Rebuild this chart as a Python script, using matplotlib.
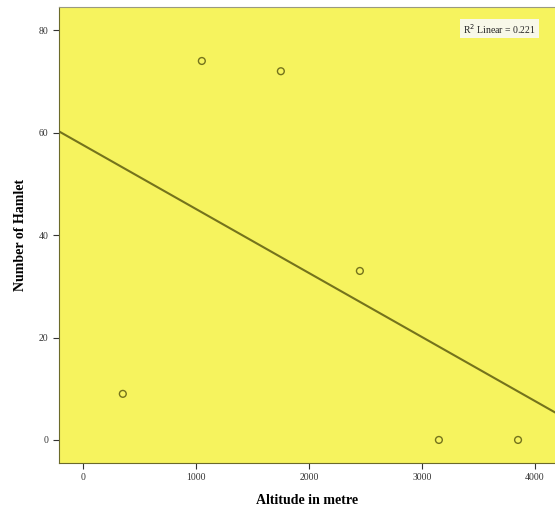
import numpy as np
import matplotlib.pyplot as plt

# =========================
# Data
# =========================
altitude = [354, 1053, 1752, 2451, 3150, 3850]
hamlets = [9, 74, 72, 33, 0, 0]
r2_label = "R$^2$ Linear = 0.221"

x_ticks = [0, 1000, 2000, 3000, 4000]
y_ticks = [0, 20, 40, 60, 80]

# =========================
# Style
# =========================
plt.rcParams["font.family"] = ["Liberation Serif", "DejaVu Serif"]
bg_yellow = "#f6f35e"
olive = "#74731c"

fig = plt.figure(figsize=(5.55, 5.15), dpi=100)
ax = fig.add_axes([0.106, 0.101, 0.894, 0.885])
ax.set_facecolor(bg_yellow)

ax.scatter(altitude, hamlets, s=24, facecolors="none", edgecolors=olive, linewidths=1.0, zorder=3)

# fit line across the full x range
slope, intercept = np.polyfit(altitude, hamlets, 1)
xlim = (-212, 4177)
xs = np.array(xlim)
ax.plot(xs, slope * xs + intercept, color=olive, lw=1.5, zorder=2)

ax.set_xlim(*xlim)
ax.set_ylim(-4.5, 84.5)
ax.set_xticks(x_ticks)
ax.set_yticks(y_ticks)
ax.tick_params(labelsize=7, colors="#333333", length=4)
for sp in ax.spines.values():
    sp.set_color("#6b6a2a")
ax.spines["top"].set_color("#9a9a80")
ax.spines["right"].set_visible(False)

ax.set_xlabel("Altitude in metre", fontsize=10, fontweight="bold", labelpad=8)
ax.set_ylabel("Number of Hamlet", fontsize=10, fontweight="bold", labelpad=8)

ax.text(0.962, 0.953, r2_label, transform=ax.transAxes, ha="right", va="center",
        fontsize=7, color="#222222",
        bbox=dict(boxstyle="square,pad=0.3", facecolor="#f8f8e8", edgecolor="none"))

plt.savefig("out.png", dpi=100)
plt.close()
